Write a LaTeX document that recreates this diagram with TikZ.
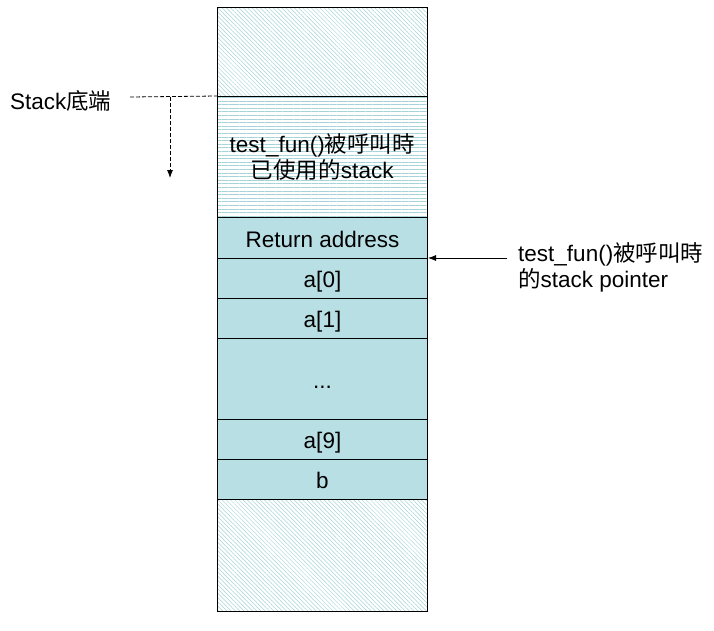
\documentclass[tikz,border=0pt]{standalone}
\usepackage{fontspec}
\setmainfont{Liberation Sans}
\newfontfamily\cjk{Noto Sans CJK TC}
\usetikzlibrary{patterns.meta,arrows.meta}
\definecolor{cellfill}{RGB}{184,223,228}
\definecolor{hatch}{RGB}{165,212,216}
\tikzset{
  cell/.style={draw=black, line width=1pt, fill=cellfill, minimum width=210pt, inner sep=0pt, anchor=north west, font=\fontsize{22.5}{26}\selectfont, align=center, text height=18pt, text depth=0pt},
  diag/.style={draw=black, line width=1pt, minimum width=210pt, inner sep=0pt, anchor=north west, pattern={Lines[angle=-45,distance=3pt,line width=0.5pt]}, pattern color=hatch},
  horiz/.style={draw=black, line width=1pt, minimum width=210pt, inner sep=0pt, anchor=north west, pattern={Lines[angle=0,distance=3.6pt,line width=0.5pt]}, pattern color=hatch, font=\fontsize{22.5}{26}\selectfont, align=center},
  lbl/.style={inner sep=0pt, font=\fontsize{22.5}{26}\selectfont, align=left},
  dsh/.style={dash pattern=on 4pt off 2pt, line width=0.8pt},
  tip/.style={-{Latex[length=8pt,width=6pt]}}
}
\begin{document}
\begin{tikzpicture}[x=1pt,y=-1pt]
\useasboundingbox (0,0) rectangle (714,630);
\fill[white] (0,0) rectangle (714,630);
\node[diag, minimum height=89pt] (top) at (217,7) {};
\node[horiz, minimum height=121pt] (used) at (217,96) {test\_fun(){\cjk 被呼叫時}\\{\cjk 已使用的}stack};
\node[cell, minimum height=41pt] (ret) at (217,217) {Return address};
\node[cell, minimum height=40pt] (a0) at (217,258) {a[0]};
\node[cell, minimum height=40pt] (a1) at (217,298) {a[1]};
\node[cell, minimum height=81pt] (dots) at (217,338) {...};
\node[cell, minimum height=40pt] (a9) at (217,419) {a[9]};
\node[cell, minimum height=40pt] (b) at (217,459) {b};
\node[diag, minimum height=112pt] (bot) at (217,499) {};
\node[lbl, anchor=west] (sb) at (10,101) {Stack{\cjk 底端}};
\node[lbl, anchor=west] (ptr) at (518,267) {test\_fun(){\cjk 被呼叫時}\\{\cjk 的}stack pointer};
\coordinate (ds) at (130,97);
\coordinate (dv) at (170,97);
\coordinate (de) at (170,178);
\coordinate (ps) at (507,258);
\draw[dsh] (ds) -- (used.north west);
\draw[dsh, tip] (dv) -- (de);
\draw[line width=0.8pt, tip] (ps) -- (a0.north east);
\end{tikzpicture}
\end{document}
